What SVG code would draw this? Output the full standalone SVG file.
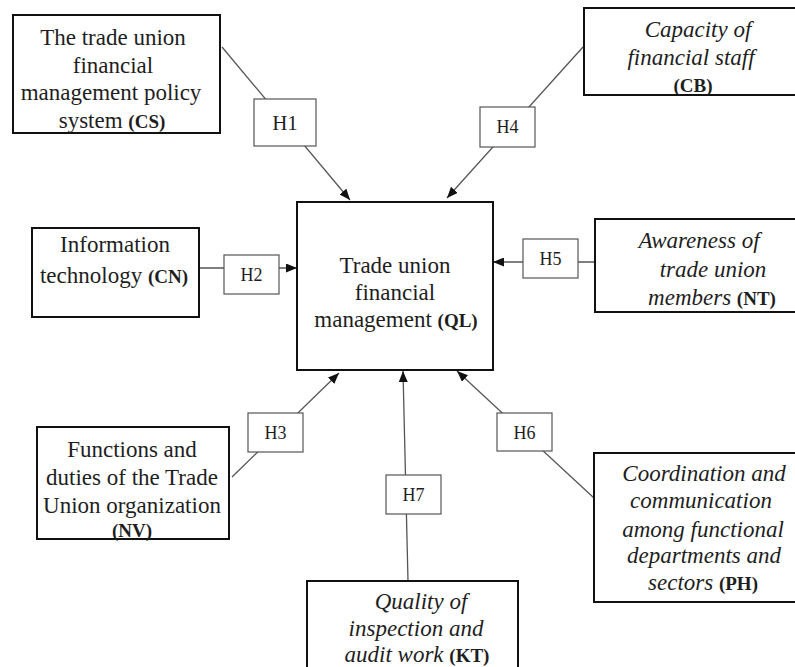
<svg xmlns="http://www.w3.org/2000/svg" width="795" height="667" viewBox="0 0 795 667">
<style>
.node{fill:#fff;stroke:#111;stroke-width:2}
.lbl{fill:#fff;stroke:#555;stroke-width:1.2}
.conn{stroke:#555;stroke-width:1.3;fill:none}
text{font-size:23px;fill:#1e1e1e;text-anchor:middle}
.it{font-style:italic}
.b{font-weight:bold;font-size:19px;font-style:normal}
.h{font-size:18px}
.h1{font-size:21px}
</style>
<defs>
<marker id="arr" markerUnits="userSpaceOnUse" markerWidth="11" markerHeight="9" refX="11" refY="4.5" orient="auto">
<path d="M0,0 L11,4.5 L0,9 z" fill="#111"/>
</marker>
</defs>
<rect width="795" height="667" fill="#fff"/>
<g id="connectors">
<line class="conn" x1="222" y1="47" x2="350" y2="200" marker-end="url(#arr)"/>
<line class="conn" x1="583" y1="47" x2="447" y2="198" marker-end="url(#arr)"/>
<line class="conn" x1="199" y1="268" x2="297" y2="268" marker-end="url(#arr)"/>
<line class="conn" x1="595" y1="262" x2="493" y2="262" marker-end="url(#arr)"/>
<line class="conn" x1="232" y1="477" x2="339" y2="373" marker-end="url(#arr)"/>
<line class="conn" x1="594" y1="498" x2="457" y2="371" marker-end="url(#arr)"/>
<line class="conn" x1="408" y1="581" x2="403" y2="371" marker-end="url(#arr)"/>
</g>
<g font-family="Liberation Serif, Tinos, DejaVu Serif, serif">
<g id="labels">
<g id="H1"><rect class="lbl" x="254" y="99" width="62" height="47"/><text class="h1" x="285" y="130">H1</text></g>
<g id="H4"><rect class="lbl" x="480" y="107" width="55" height="40"/><text class="h" x="507.5" y="133">H4</text></g>
<g id="H2"><rect class="lbl" x="224" y="255" width="55" height="39"/><text class="h" x="251.5" y="281">H2</text></g>
<g id="H5"><rect class="lbl" x="523" y="239" width="55" height="39"/><text class="h" x="550.5" y="265">H5</text></g>
<g id="H3"><rect class="lbl" x="248" y="413" width="55" height="39"/><text class="h" x="275.5" y="439">H3</text></g>
<g id="H6"><rect class="lbl" x="497" y="413" width="55" height="38"/><text class="h" x="524.5" y="439">H6</text></g>
<g id="H7"><rect class="lbl" x="386" y="475" width="55" height="39"/><text class="h" x="413.5" y="501">H7</text></g>
</g>
<g id="CS">
<rect class="node" x="13" y="15" width="207" height="118"/>
<text x="113" y="45">The trade union</text>
<text x="113" y="73">financial</text>
<text x="111" y="100">management policy</text>
<text x="112" y="128">system <tspan class="b">(CS)</tspan></text>
</g>
<g id="CB">
<rect class="node" x="584" y="8" width="214" height="87"/>
<text class="it" x="698" y="37">Capacity of</text>
<text class="it" x="691" y="65">financial staff</text>
<text class="b" x="693" y="92">(CB)</text>
</g>
<g id="CN">
<rect class="node" x="32" y="228" width="167" height="89"/>
<text x="115" y="252">Information</text>
<text x="114" y="283">technology <tspan class="b">(CN)</tspan></text>
</g>
<g id="QL">
<rect class="node" x="297" y="202" width="196" height="168"/>
<text x="395" y="273">Trade union</text>
<text x="395" y="300">financial</text>
<text x="396" y="327">management <tspan class="b">(QL)</tspan></text>
</g>
<g id="NT">
<rect class="node" x="595" y="219" width="203" height="93"/>
<text class="it" x="699" y="248">Awareness of</text>
<text class="it" x="713" y="277">trade union</text>
<text class="it" x="712" y="305">members <tspan class="b">(NT)</tspan></text>
</g>
<g id="NV">
<rect class="node" x="37" y="427" width="192" height="112"/>
<text x="132" y="457">Functions and</text>
<text x="132" y="485">duties of the Trade</text>
<text x="132" y="513">Union organization</text>
<text class="b" x="132" y="537">(NV)</text>
</g>
<g id="PH">
<rect class="node" x="594" y="453" width="204" height="149"/>
<text class="it" x="704" y="481">Coordination and</text>
<text class="it" x="701" y="508">communication</text>
<text class="it" x="703" y="537">among functional</text>
<text class="it" x="704" y="563">departments and</text>
<text class="it" x="703" y="590">sectors <tspan class="b">(PH)</tspan></text>
</g>
<g id="KT">
<rect class="node" x="307" y="581" width="211" height="100"/>
<text class="it" x="421" y="609">Quality of</text>
<text class="it" x="416" y="636">inspection and</text>
<text class="it" x="417" y="662">audit work <tspan class="b">(KT)</tspan></text>
</g>
</g>
</svg>
